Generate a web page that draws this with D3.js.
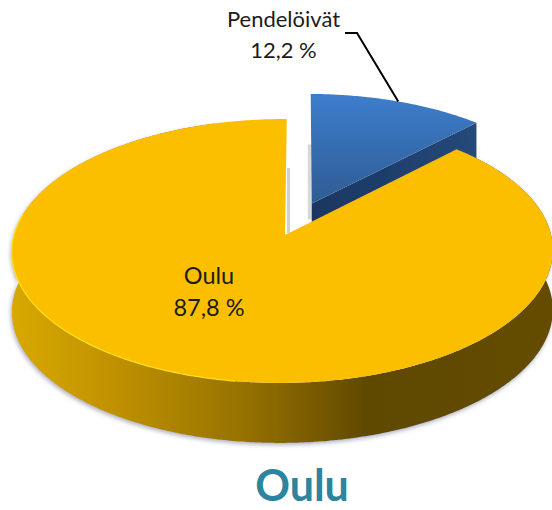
<!DOCTYPE html>
<html lang="fi">
<head>
<meta charset="utf-8">
<title>Oulu</title>
<script src="https://cdn.jsdelivr.net/npm/d3@7/dist/d3.min.js"></script>
<style>
  html, body { margin: 0; padding: 0; background: #fff; }
  svg { display: block; }
  text { font-family: Lato, "Open Sans", sans-serif; }
</style>
</head>
<body>
<svg id="chart" width="552" height="510"></svg>
<script>
const categories = ['Pendelöivät', 'Oulu'];
const values = [12.2, 87.8];
const valueLabels = ['12,2 %', '87,8 %'];
const chartTitle = 'Oulu';

const svg = d3.select('#chart');
const defs = svg.append('defs');

// 3D look: the unit disc goes through a small perspective transform,
// which is what puts the slice apex above the middle of the ellipse.
const CX = 285, CY = 235, RX = 268.5, RY = 130, PERSP = 0.121, PERSP_X = 0.009, LEAN = 2;
const DEPTH = 60, EXPLODE = 0.27;

function project(u, v, drop) {
  const d = 1 + PERSP * v + PERSP_X * u;
  return [CX + (RX * u + LEAN * v) / d, CY - RY * v / d + (drop || 0)];
}

function rimPoints(a0, a1, off, drop) {
  const n = Math.ceil(Math.abs(a1 - a0) / 0.01);
  return d3.range(n + 1).map(i => {
    const a = a0 + (a1 - a0) * i / n;
    return project(Math.sin(a) + off[0], Math.cos(a) + off[1], drop);
  });
}

const line = d3.line();
const arcs = d3.pie().sort(null)(values);
const blue = arcs[0], yellow = arcs[1];
const mid = (blue.startAngle + blue.endAngle) / 2;
const off = [EXPLODE * Math.sin(mid), EXPLODE * Math.cos(mid)];
const none = [0, 0];

function hGrad(id, stops) {
  const g = defs.append('linearGradient').attr('id', id)
    .attr('x1', 0).attr('x2', 1).attr('y1', 0).attr('y2', 0);
  stops.forEach(s => g.append('stop').attr('offset', s[0]).attr('stop-color', s[1]));
}
hGrad('wallYellow', [[0, '#d8a900'], [0.16, '#c49500'], [0.42, '#987300'], [0.53, '#7f6000'], [0.66, '#5f4800'], [1, '#654c00']]);
hGrad('wallBlue', [[0, '#1a3660'], [1, '#25497a']]);
const topBlue = defs.append('linearGradient').attr('id', 'topBlue')
  .attr('x1', 0).attr('x2', 0).attr('y1', 0).attr('y2', 1);
topBlue.append('stop').attr('offset', 0).attr('stop-color', '#3d7dcd');
topBlue.append('stop').attr('offset', 1).attr('stop-color', '#2e5c93');

defs.append('filter').attr('id', 'soft').append('feGaussianBlur').attr('stdDeviation', 0.5);
const shadow = defs.append('filter').attr('id', 'shadow')
  .attr('x', '-5%').attr('y', '-5%').attr('width', '110%').attr('height', '115%');
shadow.append('feDropShadow').attr('dx', -1).attr('dy', 2).attr('stdDeviation', 2)
  .attr('flood-color', '#8a90a0').attr('flood-opacity', 0.7);

const g = svg.append('g').attr('filter', 'url(#soft)');

// faint grey inner walls in the gap between the slices
const apex = project(0, 0);
const blueApex = project(off[0], off[1]);
g.append('rect').attr('x', apex[0] + 2).attr('y', apex[1] - 67).attr('width', 3).attr('height', 65).attr('fill', '#d0d0d0');
g.append('rect').attr('x', blueApex[0] - 4).attr('y', blueApex[1] - 59).attr('width', 4).attr('height', 75).attr('fill', '#d8d8d8');

// blue slice, exploded
const blueArcTop = rimPoints(blue.startAngle, blue.endAngle, off, 0);
const blueEdgeTop = [blueApex, blueArcTop[blueArcTop.length - 1]];
g.append('path')
  .attr('d', line([blueEdgeTop[0], blueEdgeTop[1],
    [blueEdgeTop[1][0], blueEdgeTop[1][1] + DEPTH], [blueEdgeTop[0][0], blueEdgeTop[0][1] + DEPTH]]) + 'Z')
  .attr('fill', 'url(#wallBlue)');
g.append('path')
  .attr('d', line([blueApex].concat(blueArcTop)) + 'Z')
  .attr('fill', 'url(#topBlue)');

// yellow slice: outer wall first (its back part stays hidden, so it stops short of the gap), then the top
const wallEnd = yellow.endAngle - 0.3;
const wallTop = rimPoints(yellow.startAngle, wallEnd, none, 0);
const wallBottom = rimPoints(yellow.startAngle, wallEnd, none, DEPTH).reverse();
g.append('path')
  .attr('d', line(wallTop.concat(wallBottom)) + 'Z')
  .attr('fill', 'url(#wallYellow)')
  .attr('filter', 'url(#shadow)');
g.append('path')
  .attr('d', line([apex].concat(rimPoints(yellow.startAngle, yellow.endAngle, none, 0))) + 'Z')
  .attr('fill', '#fcbf00');
// light edge along the lower left rim
g.append('path')
  .attr('d', line(rimPoints(Math.PI * 1.05, Math.PI * 1.55, none, 0).reverse()))
  .attr('fill', 'none')
  .attr('stroke', '#ffe01a')
  .attr('stroke-width', 1.2);

// leader line of the small slice
const leaderEnd = project(Math.sin(mid) + off[0], Math.cos(mid) + off[1]);
svg.append('path')
  .attr('d', line([[345, 33], [357, 33], leaderEnd]))
  .attr('fill', 'none')
  .attr('stroke', '#000')
  .attr('stroke-width', 2);

function label(x, y, gap, size, i) {
  const t = svg.append('text')
    .attr('text-anchor', 'middle')
    .attr('font-size', size)
    .attr('fill', '#1c1c1c');
  t.append('tspan').attr('x', x).attr('y', y).text(categories[i]);
  t.append('tspan').attr('x', x).attr('y', y + gap).text(valueLabels[i]);
}
label(283.5, 27, 31, 22, 0);
label(209, 284, 32, 23.5, 1);

svg.append('text')
  .attr('x', 302)
  .attr('y', 501)
  .attr('text-anchor', 'middle')
  .attr('font-size', 43)
  .attr('font-weight', 700)
  .attr('fill', '#2c84a1')
  .text(chartTitle);
</script>
</body>
</html>
